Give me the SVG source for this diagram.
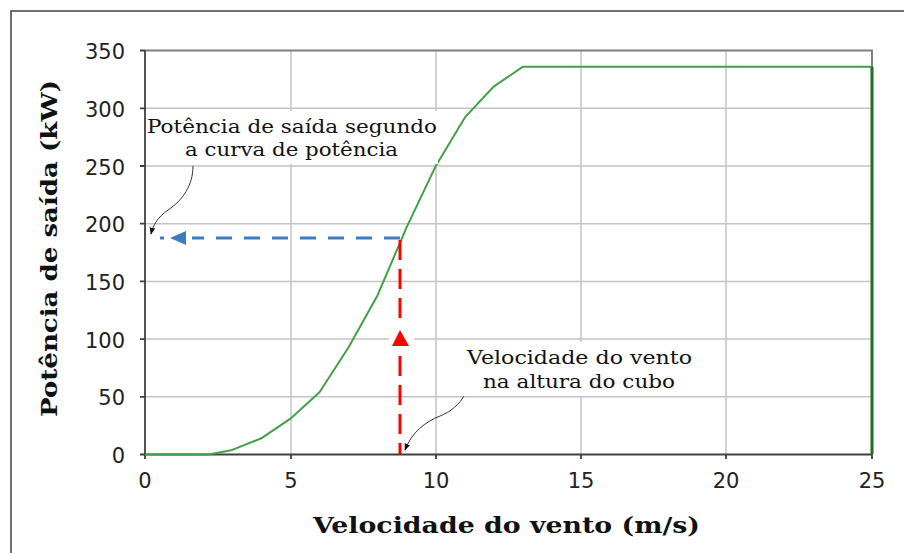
<svg xmlns="http://www.w3.org/2000/svg" width="904" height="553" viewBox="0 0 904 553">
  <defs>
    <style>
      .grid { stroke: #c4c4c4; stroke-width: 1.5; fill: none; }
      .axis { stroke: #404040; stroke-width: 1.8; fill: none; }
      .tick { font-family: "DejaVu Sans", Verdana, sans-serif; font-size: 21px; fill: #222; }
      .title { font-family: "DejaVu Serif", Cambria, serif; font-weight: bold; font-size: 22px; fill: #111; }
      .note { font-family: "DejaVu Serif", Cambria, serif; font-size: 19px; fill: #111; }
      .leader { stroke: #333; stroke-width: 1; fill: none; }
    </style>
    <marker id="arrSmall" viewBox="0 0 10 10" refX="9" refY="5" markerWidth="7" markerHeight="7" orient="auto" markerUnits="userSpaceOnUse">
      <path d="M0,1 L10,5 L0,9 Z" fill="#111"/>
    </marker>
  </defs>
  <rect width="904" height="553" fill="#ffffff"/>
  <!-- outer frame -->
  <path d="M11,553 V11 H904" stroke="#404040" stroke-width="1.5" fill="none"/>

  <g id="plot-area">
    <path class="grid" d="M291,51 V454.5 M436,51 V454.5 M581,51 V454.5 M726,51 V454.5"/>
    <path class="grid" d="M145,396.8 H872 M145,339.1 H872 M145,281.4 H872 M145,223.7 H872 M145,166 H872 M145,108.3 H872"/>
    <path d="M145,50.5 H872 V454.5" stroke="#7f7f7f" stroke-width="2" fill="none"/>
    <path class="axis" d="M145,50.5 V454.5 H872"/>
    <path class="axis" stroke-width="1.2" d="M140,50.5 H145 M140,108.3 H145 M140,166 H145 M140,223.7 H145 M140,281.4 H145 M140,339.1 H145 M140,396.8 H145 M140,454.5 H145 M145,454.5 V459 M291,454.5 V459 M436,454.5 V459 M581,454.5 V459 M726,454.5 V459 M872,454.5 V459"/>
  </g>

  <g id="y-tick-labels" class="tick" text-anchor="end">
    <text x="125" y="59">350</text>
    <text x="125" y="117">300</text>
    <text x="125" y="175">250</text>
    <text x="125" y="232">200</text>
    <text x="125" y="290">150</text>
    <text x="125" y="348">100</text>
    <text x="125" y="405">50</text>
    <text x="125" y="463">0</text>
  </g>
  <g id="x-tick-labels" class="tick" text-anchor="middle">
    <text x="145" y="488">0</text>
    <text x="291" y="488">5</text>
    <text x="436" y="488">10</text>
    <text x="581" y="488">15</text>
    <text x="726" y="488">20</text>
    <text x="872" y="488">25</text>
  </g>

  <g id="x-title">
    <text class="title" x="313" y="533" textLength="387" lengthAdjust="spacingAndGlyphs">Velocidade do vento (m/s)</text>
  </g>
  <g id="y-title">
    <text class="title" transform="translate(57,417) rotate(-90)" x="0" y="0" textLength="337" lengthAdjust="spacingAndGlyphs">Potência de saída (kW)</text>
  </g>

  <g id="power-curve">
    <polyline points="145,454.5 209,454.5 232.2,449.9 261.3,438.3 290.4,418.7 319.5,392.2 348.6,347.2 377.6,295.2 406.7,227.1 435.8,165.9 464.9,117.4 494,86.3 523,66.7 872,66.7" fill="none" stroke="#43a047" stroke-width="2" stroke-linejoin="round"/>
    <line x1="872" y1="66.7" x2="872" y2="454.5" stroke="#1f6e26" stroke-width="3"/>
  </g>

  <g id="connectors">
    <!-- blue horizontal dashed -->
    <line x1="400" y1="238" x2="148" y2="238" stroke="#3f7bc1" stroke-width="3" stroke-dasharray="16,12"/>
    <rect x="164" y="229" width="28" height="18" fill="#ffffff"/>
    <path d="M170,238 L186,231 L186,245 Z" fill="#3f7bc1"/>
    <!-- red vertical dashed -->
    <line x1="400" y1="240" x2="400" y2="454" stroke="#ff0000" stroke-width="3" stroke-dasharray="20,9"/>
    <rect x="389" y="326" width="25" height="24" fill="#ffffff"/>
    <path d="M400,330 L409,346 L392,346 Z" fill="#ff0000"/>
    <!-- leaders -->
    <path class="leader" d="M193,166 C193,185 183,200 168,210 C158,217 153,225 151,234" marker-end="url(#arrSmall)"/>
    <path class="leader" d="M466,392 C460,405 450,412 440,416 C425,422 412,432 405,450" marker-end="url(#arrSmall)"/>
  </g>

  <g id="note-power">
    <rect x="147" y="111" width="291" height="53" fill="#ffffff"/>
    <text class="note" x="147" y="133" textLength="290" lengthAdjust="spacingAndGlyphs">Potência de saída segundo</text>
    <text class="note" x="185" y="156" textLength="213" lengthAdjust="spacingAndGlyphs">a curva de potência</text>
  </g>
  <g id="note-wind">
    <rect x="463" y="342" width="233" height="54" fill="#ffffff"/>
    <text class="note" x="467" y="364" textLength="225" lengthAdjust="spacingAndGlyphs">Velocidade do vento</text>
    <text class="note" x="483" y="388" textLength="192" lengthAdjust="spacingAndGlyphs">na altura do cubo</text>
  </g>
</svg>
